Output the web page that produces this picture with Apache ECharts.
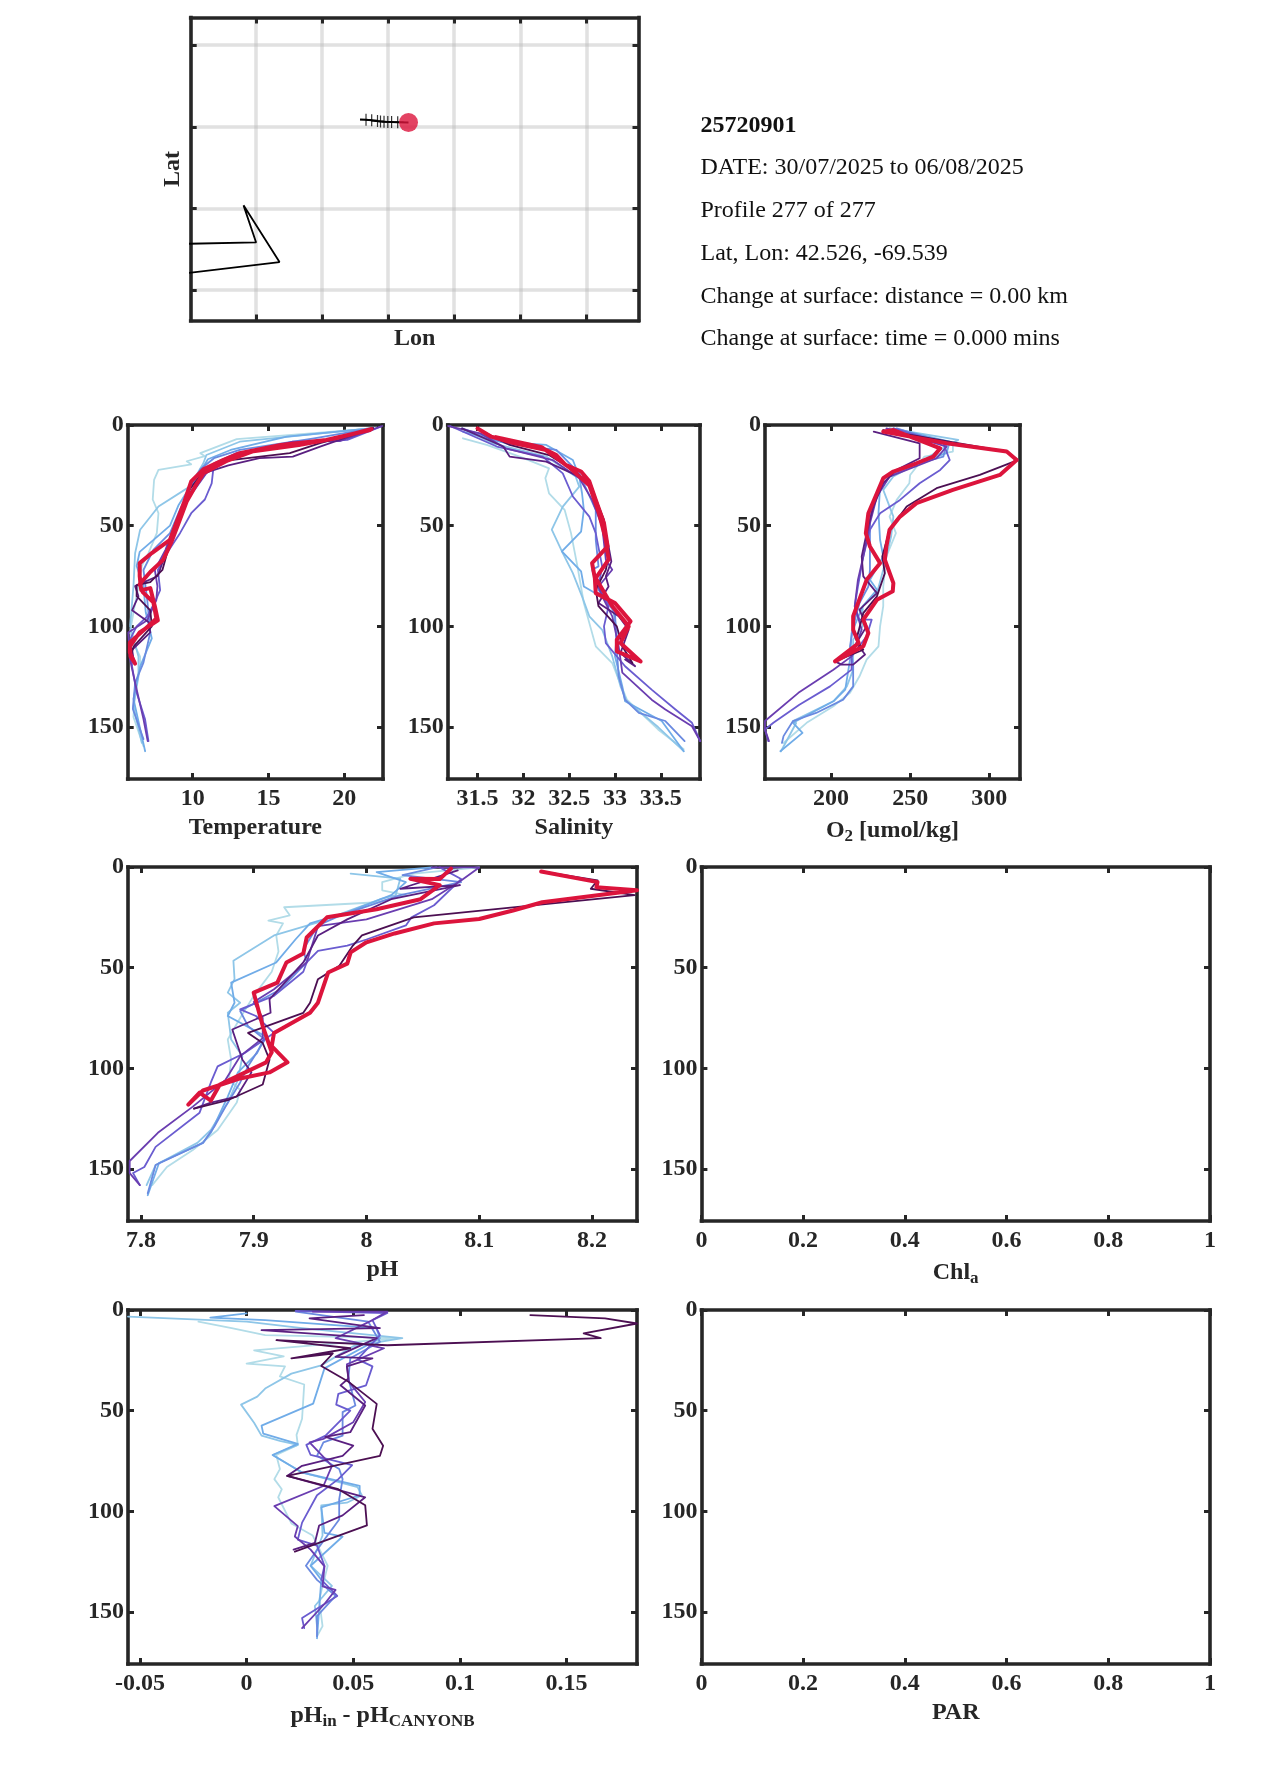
<!DOCTYPE html>
<html><head><meta charset="utf-8">
<style>html,body{margin:0;padding:0;background:#fff}#c{width:1275px;height:1771px}</style>
<script src="https://cdn.jsdelivr.net/npm/echarts@6/dist/echarts.min.js"></script>
</head><body><div id="c"></div>
<script>
// ---------- tick labels ----------
const depthTicks=[0,50,100,150];
const tempTicks=[10,15,20];
const salTicks=[31.5,32,32.5,33,33.5];
const oxyTicks=[200,250,300];
const phTicks=[7.8,7.9,8,8.1,8.2];
const dphTicks=[-0.05,0,0.05,0.1,0.15];
const unitTicks=[0,0.2,0.4,0.6,0.8,1];
const lonTicks=[-73,-71.5,-70,-68.5,-67,-65.5];
const latTicks=[41.5,42,42.5,43];
// ---------- info text ----------
const infoLines=['25720901','DATE: 30/07/2025 to 06/08/2025','Profile 277 of 277','Lat, Lon: 42.526, -69.539','Change at surface: distance = 0.00 km','Change at surface: time = 0.000 mins'];
// ---------- map ----------
const coastLine=[[-74.7,41.783],[-73.0,41.792],[-73.286,42.019],[-72.469,41.672],[-74.7,41.6]];
const trackLine=[[-70.64,42.545],[-70.504,42.543],[-70.375,42.54],[-70.243,42.535],[-70.175,42.533],[-70.095,42.531],[-70.009,42.53],[-69.923,42.529],[-69.784,42.528],[-69.539,42.526]];
const trackMarks=[[-70.504,42.543],[-70.375,42.54],[-70.243,42.535],[-70.175,42.533],[-70.095,42.531],[-70.009,42.53],[-69.923,42.529],[-69.784,42.528]];
const lastFix=[[-69.539,42.526]];
// ---------- temperature profiles: [value, depth] ----------
const temp1=[[22,1.6],[18,4],[12.9,7],[10.5,14],[10.8,15.5],[9.6,18],[9.9,19.5],[7.74,22.3],[7.45,27.3],[7.36,37],[7.74,43.8],[7.63,53.7],[7.08,63.6],[6.64,70],[6.42,80],[6.09,93],[5.87,103],[6.2,110],[6.53,115],[6.53,120],[6.2,130],[6.09,145],[6.75,159.5]];
const temp2=[[21.9,1.6],[13.1,8.3],[10.9,14.9],[10.7,19],[9.8,30.6],[7.74,40.5],[6.53,52],[6.2,63.6],[6.09,80],[5.87,100],[6.42,115],[6.42,124.8],[6.09,139.7],[6.64,157.8]];
const temp3=[[21.9,1.6],[16.2,5.8],[12.5,12.4],[11,17],[10.6,22],[9.8,31],[9.05,40],[8.5,50],[6.5,63],[6.3,70],[6.75,80],[6.9,93],[7.3,106],[6.53,120],[6.09,136],[6.86,162]];
const temp4=[[21.9,1.6],[18,6.6],[13.1,12.4],[11.4,16.5],[10.5,22],[9.8,32],[9.16,42],[8.5,53.7],[7.4,62],[6.75,72],[7,87],[7.2,103],[6.75,118],[6.2,128],[6.05,141],[6.75,156]];
const temp5=[[22.4,0.8],[20.2,7.4],[16.7,9],[12.9,14],[11.4,19],[11.25,29],[10.8,37],[9.9,43.8],[9.16,53.7],[8.3,63.6],[7.7,72],[7.85,82],[7.5,88],[7,95],[6.3,100],[5.9,106],[6,120],[6.3,133],[6.85,146],[7.08,157]];
const temp6=[[22.5,0.5],[19.7,8],[16.6,8.3],[12.5,15.7],[10.9,24],[9.8,35.5],[8.95,47],[8.2,62],[7.5,72],[7.67,80],[7.6,87],[7,97],[5.75,103],[5.85,116],[6.2,128],[6.75,146],[7.03,157]];
const temp7=[[21.9,1.6],[18.4,10.7],[16.6,15.7],[14.4,16.5],[12.35,20],[10.7,24],[9.8,34],[8.95,48.8],[8.06,67],[7.7,75],[6.2,80],[6.42,85],[6,92],[7.1,98],[7.2,103],[6,111.6],[6.1,116.5]];
const temp8=[[21.9,1.6],[18.4,9],[16.4,14],[12.5,17.4],[10.7,23],[9.8,32],[8.85,48.8],[8,72],[7.2,78],[6.3,79.5],[6.3,85],[7.2,92],[7.3,100],[6.1,110],[5.9,115]];
const tempLast=[[21.7,2.5],[18.8,7.4],[15.8,9.9],[13.1,14],[12,17.4],[10.7,22],[9.9,28],[9.4,39],[8.5,57],[7.3,63.6],[6.5,68.6],[6.5,75],[6.6,82],[7.2,81],[7.5,90],[7.7,97],[6.5,103],[5.85,110],[5.9,115],[6.2,118.5],[5.85,113],[5.85,108],[7.2,99],[7.6,96],[7.4,88],[6.7,83],[6.5,79],[7.2,73],[8.05,67],[8.6,58],[9.0,50],[9.6,38],[10.2,30],[10.7,24],[12.2,18],[14,13],[17,10],[19.5,6.5],[21.8,2]];
// ---------- salinity profiles ----------
const sal1=[[31.34,6.6],[31.6,9.9],[31.96,15.7],[32.28,21.5],[32.24,26.4],[32.28,33.9],[32.45,42.1],[32.52,53.7],[32.59,70.2],[32.66,88.4],[32.73,100],[32.79,109.9],[32.97,118.2],[33.04,126.4],[33.13,136.4],[33.47,151.2],[33.75,161]];
const sal2=[[31.33,1.7],[31.67,9.1],[32.25,15.7],[32.57,25.6],[32.61,30.6],[32.43,40.5],[32.31,52],[32.43,63.6],[32.54,73.6],[32.64,85.1],[32.72,95],[32.86,101.7],[32.97,114.9],[33.06,129.8],[33.13,137.2],[33.47,150],[33.75,162]];
const sal3=[[31.34,3.3],[31.74,8.3],[32.25,9.9],[32.54,17.4],[32.61,25.6],[32.64,33.9],[32.66,42.1],[32.63,52.9],[32.42,62.8],[32.63,72.7],[32.66,80.2],[32.97,88.4],[33.02,103.3],[33,114.9],[33.08,129.8],[33.11,137.2],[33.51,147],[33.75,162]];
const sal4=[[31.33,1.7],[31.81,9.1],[32.36,12.4],[32.61,24],[32.79,42.1],[32.79,57],[32.82,70.2],[32.75,71.9],[32.82,81.8],[33,93.4],[33.02,111.6],[33.04,124.8],[33.11,136.4],[33.26,143],[33.55,147],[33.76,157]];
const sal5=[[31.2,0.5],[31.71,10.7],[32.21,15.7],[32.43,24],[32.54,35.5],[32.72,45.5],[32.79,53.7],[32.86,70.2],[32.82,80.2],[32.93,90],[32.88,100],[32.9,108.3],[33.11,119.8],[33.4,131.4],[33.66,141.3],[33.84,147.9],[33.93,157]];
const sal6=[[31.18,0.5],[31.53,4.1],[31.81,11.6],[32.32,17.4],[32.61,26.4],[32.75,37.2],[32.86,50.4],[32.9,66.9],[32.97,71.9],[32.82,80.2],[32.86,85.1],[32.97,95],[33.04,109.9],[33.08,123],[33.4,136.4],[33.55,141.3],[33.84,149.6],[33.93,157]];
const sal7=[[31.33,1.7],[31.78,10.7],[31.85,15.7],[32.25,18.2],[32.57,24.8],[32.72,27.3],[32.86,45.5],[32.93,60.3],[32.96,67.8],[32.9,75.2],[32.93,80.2],[32.82,88.4],[33.04,95],[33.15,101.7],[33.06,113.2],[33.22,119.8],[33.11,116.5]];
const sal8=[[31.49,1.7],[31.85,9.9],[32.28,14.9],[32.54,22.3],[32.72,28.9],[32.88,47.1],[32.93,65.3],[32.9,71.9],[32.79,81.8],[32.82,90],[33.02,100],[33.08,109.9],[33.19,118.2]];
const salLast=[[31.5,1.7],[31.65,5.8],[31.89,9],[32.25,12.4],[32.36,14.9],[32.46,19.8],[32.63,23.1],[32.72,28],[32.79,37.2],[32.88,48.8],[32.92,60.3],[32.75,68.6],[32.78,76],[32.79,83.5],[33,88.4],[33.17,97.5],[33.02,106.6],[33.02,112.4],[33.28,117.4],[33.06,108.3],[33.15,100],[32.97,90],[32.79,76],[32.93,66.9],[32.9,57],[32.82,43],[32.72,30],[32.5,21],[32.2,11],[31.7,6]];
// ---------- oxygen profiles ----------
const oxy1=[[237,1.7],[277,9.1],[277,13.2],[259,15.7],[250,24.8],[249.5,28.9],[241.5,37.2],[237,45.5],[241,53.7],[235,65.3],[233,80.2],[233,90],[231,100],[230,109.9],[222.5,116.5],[218,124.8],[212,133],[201.5,139.7],[184.6,147.9],[170,157.9]];
const oxy2=[[237,1.7],[280.4,7.4],[267,13.2],[260.6,16.5],[239.4,25.6],[233,32.2],[239.4,45.5],[238,55.4],[233,71.9],[229,83.5],[220,90],[220,100],[214,106.6],[214,121.5],[210,129.8],[201.5,137.2],[176,147],[178,148],[168.4,162]];
const oxy3=[[239.4,1.7],[275,8.3],[273,14],[254.5,19],[237,25.6],[231,30.6],[230,43.8],[231,57],[233,65.3],[224.6,76.9],[229,81.8],[220,90],[213,103.3],[212,116.5],[209,131.4],[201.5,137.2],[176,147.9],[182,152.9],[168,162]];
const oxy4=[[241.5,1.7],[273,9.1],[271,15.7],[252,19.8],[237,25.6],[229,33.9],[224.6,45.5],[224.6,58.7],[224.6,71.9],[223.6,80.2],[218,88.4],[214,100],[212,109.9],[214,119.8],[214,129.8],[207.7,136.4],[190.6,143],[176,147],[170,154.5],[169,157.9]];
const oxy5=[[239.4,1.7],[271,9.1],[275,17.4],[269,22.3],[256,28.9],[243.6,37.2],[231,43.8],[224.6,52],[220.4,65.3],[217,80.2],[215,90],[218,96.7],[225.7,96.7],[222.5,104.9],[213,114.9],[213,121.5],[199.4,129.8],[180,138.9],[163.6,147.9],[158.3,151.2],[160.4,157]];
const oxy6=[[235,1.7],[273,10.7],[266.7,16.5],[247.8,22.3],[237,25.6],[229,35.5],[224.6,48.8],[220.4,65.3],[217,76.9],[215,90],[219.4,101.7],[213,114.9],[201.5,121.5],[179.4,133],[158.3,147],[158.3,151.2],[160.8,157]];
const oxy7=[[227,3.3],[256,9.1],[256,16.5],[241.5,22.3],[233,28.9],[226.7,40.5],[222.5,53.7],[219.4,65.3],[220.4,75.2],[229,83.5],[218,91.7],[222.5,100],[216,108.3],[221.5,114],[214,119],[206.7,119],[202.5,117.4]];
const oxy8=[[233,2.5],[311,13.2],[318,17.4],[294,24.8],[266.7,31.4],[247.8,40.5],[237,52],[232.4,65.3],[234,73.6],[229,85.1],[220.4,93.4],[216,106.6],[220.4,111.6],[202.5,117.4]];
const oxyLast=[[233,3.3],[239.4,2.5],[269,11.6],[264.6,15.7],[254,19],[239.4,23.1],[233,26.4],[229,33.9],[223.6,43.8],[222,53.7],[224.6,60.3],[231,68.6],[222.5,76.9],[219.4,83.5],[214,95],[214,101.7],[217.5,108.3],[202.5,117.4],[220.4,109.9],[223.6,103.3],[220.4,96.7],[229,86.8],[239,82.6],[239.4,78.5],[234,66.9],[235,60.3],[237,52],[243.6,45.5],[254,38.8],[277,32.2],[306.7,24.8],[317.3,17.4],[311,13.2],[273,9.1],[233,3.3]];
// ---------- pH profiles ----------
const ph1=[[8.1,0.2],[8.042,3.3],[8.014,7.5],[8.014,11.6],[8.035,14],[8.01,17.5],[7.927,20],[7.932,24],[7.913,26.6],[7.926,28],[7.92,34],[7.922,42],[7.916,52],[7.9,64],[7.888,75],[7.877,85.7],[7.88,95.7],[7.878,105.7],[7.888,110.7],[7.885,117],[7.868,130.6],[7.846,140.6],[7.823,149],[7.81,158]];
const ph2=[[7.986,3.3],[8.03,5.8],[8.026,14],[8.012,16],[7.957,27.5],[7.918,34],[7.882,46.6],[7.883,55.7],[7.877,62.4],[7.888,67.4],[7.877,72.4],[7.88,85.7],[7.89,94],[7.886,105.7],[7.877,117],[7.862,130.6],[7.85,137],[7.813,148],[7.805,158]];
const ph3=[[8.058,0.2],[8.009,2.5],[8.035,7.5],[8.022,14],[7.983,22.5],[7.95,28],[7.937,36],[7.92,47.4],[7.88,57.4],[7.883,67.4],[7.877,74],[7.91,84],[7.903,92.4],[7.886,102],[7.877,114],[7.862,132],[7.855,137],[7.816,147],[7.806,163]];
const ph4=[[8.062,0.2],[8.032,4],[8.084,7.5],[8.03,14],[7.977,24],[7.957,29],[7.944,41],[7.947,47.4],[7.924,60.7],[7.888,71.5],[7.895,79],[7.91,85.7],[7.895,99],[7.888,107],[7.875,119],[7.865,129],[7.855,137],[7.813,148],[7.806,162]];
const ph5=[[8.065,0.2],[8.084,6],[8.06,19],[8.04,25],[8.035,29],[8,36],[7.983,39],[7.957,41.6],[7.947,47.4],[7.944,52],[7.918,64],[7.888,70.7],[7.902,74],[7.918,82.4],[7.892,92.4],[7.868,99],[7.862,107],[7.852,122],[7.813,139],[7.803,149],[7.793,152],[7.799,158]];
const ph6=[[8.058,0.2],[8.1,0.2],[8.084,6.7],[8.058,16],[8,26],[7.957,29.4],[7.947,47.4],[7.918,60.7],[7.9,67],[7.908,75],[7.908,85],[7.888,94],[7.875,105.7],[7.846,119],[7.815,132],[7.79,146],[7.79,152],[7.799,158]];
const ph7=[[8.081,1.7],[8.03,10.8],[8.083,9],[8.022,16],[7.983,26],[7.957,34],[7.944,47.4],[7.914,65.7],[7.915,72.4],[7.881,80.7],[7.89,95.7],[7.898,102],[7.885,114],[7.862,117],[7.847,120]];
const ph8=[[8.155,2.2],[8.205,6.7],[8.199,10.8],[8.238,14],[8.13,20],[8.042,25],[7.996,34],[7.988,39],[7.976,49],[7.957,55.7],[7.95,67.4],[7.944,72.4],[7.895,82.4],[7.908,87.4],[7.914,95.7],[7.908,108],[7.878,115.6],[7.847,120]];
const phLast=[[8.155,2.2],[8.205,7.5],[8.204,10],[8.24,11.6],[8.156,17.5],[8.13,21.6],[8.1,25.8],[8.06,28],[8.025,33],[8,37.4],[7.986,42.4],[7.983,48],[7.966,52.4],[7.957,67.4],[7.95,72.4],[7.918,82.4],[7.916,89],[7.93,97],[7.914,102],[7.888,105],[7.855,111],[7.842,118],[7.852,112],[7.862,116],[7.87,108],[7.911,97],[7.916,92],[7.908,79],[7.9,62.4],[7.921,57.4],[7.929,47.4],[7.944,43],[7.947,35],[7.965,25],[8.009,21],[8.048,16],[8.065,9],[8.039,5.8],[8.065,6],[8.075,0.8]];
// ---------- pH minus CANYON-B profiles ----------
const dph1=[[-0.0226,5.8],[-0.007,9],[0.0087,12.5],[0.0712,14],[0.0035,20],[0.0174,23],[0,26.6],[0.018,28],[0.0156,33],[0.027,37],[0.026,54],[0.0234,62],[0.024,67],[0.0139,72],[0.0156,79],[0.013,84],[0.0165,89],[0.0148,93],[0.021,106],[0.031,112],[0.038,127],[0.034,144],[0.0356,157],[0.033,162]];
const dph2=[[-0.0556,3.3],[0,5.8],[0.026,9],[0.073,14],[0.05,18],[0.035,27.5],[0.021,31.6],[0.0087,39],[0.005,43],[-0.0026,47],[0.0035,56],[0.007,62.4],[0.0156,65],[0.024,67],[0.0122,72],[0.026,80.7],[0.052,88],[0.054,92],[0.047,95.7],[0.035,97],[0.0356,112],[0.03,127],[0.04,137],[0.032,147],[0.033,157]];
const dph3=[[0,1.7],[-0.017,3.8],[0.0087,5],[0.0608,9],[0.0625,14],[0.0365,29],[0.0312,46.5],[0.007,57.4],[0.0078,61.4],[0.024,66.5],[0.0122,72],[0.026,80.7],[0.053,87.3],[0.053,92],[0.035,98],[0.0365,110.7],[0.045,112.5],[0.03,127],[0.035,134],[0.033,163]];
const dph4=[[0.023,0.8],[0.057,5.8],[0.0625,15.8],[0.0486,24],[0.0477,34],[0.051,47.4],[0.045,50.7],[0.045,62.4],[0.036,65.7],[0.033,72.4],[0.0434,79],[0.045,84],[0.0434,94],[0.0434,104],[0.0365,114],[0.0278,127],[0.033,134],[0.0417,142],[0.033,152],[0.033,162]];
const dph5=[[0.023,0.5],[0.066,1.5],[0.059,5],[0.0625,12.5],[0.052,24.5],[0.059,28],[0.056,37.4],[0.043,41.6],[0.042,47],[0.0486,50],[0.037,62.4],[0.028,67],[0.03,72],[0.0495,77],[0.043,84],[0.033,92],[0.026,105.6],[0.024,114],[0.033,117],[0.0365,127],[0.035,134],[0.0425,142],[0.026,153],[0.027,158]];
const dph6=[[0.031,0.8],[0.066,0.8],[0.059,5],[0.0417,14],[0.0644,19],[0.047,27],[0.048,35.8],[0.0556,45.7],[0.05,55.7],[0.036,64],[0.0295,65.7],[0.04,77.4],[0.036,87.4],[0.013,97.4],[0.024,107.3],[0.0226,112.5],[0.03,119],[0.0365,127.3],[0.0356,137.3],[0.0417,139],[0.0365,146],[0.026,158]];
const dph7=[[0.055,2.5],[0.0295,4.2],[0.0625,9],[0.007,10],[0.061,14],[0.0417,23.3],[0.059,24],[0.047,28],[0.0477,34],[0.044,37.4],[0.0556,47.4],[0.0486,60.7],[0.037,63],[0.05,67.4],[0.045,72.4],[0.026,77.4],[0.019,82.4],[0.0556,93],[0.045,102],[0.034,107],[0.032,115.6],[0.022,119]];
const dph8=[[0.133,2.5],[0.168,4.2],[0.183,6.7],[0.158,11.6],[0.166,14],[0.066,17.5],[0.014,15],[0.0486,19],[0.021,24],[0.0404,21.6],[0.035,27.8],[0.048,35.8],[0.061,46.6],[0.059,59],[0.064,67.4],[0.0625,72.4],[0.0295,80],[0.019,82.4],[0.043,89],[0.0556,97],[0.0564,107],[0.0226,120]];
// ---------- profile colours ----------
const profileColors=['#b2dce8','#8ec6e8','#70ace8','#6a8ae0','#6a5cd0','#6a3db0','#5a1f80','#4c0f52','#dc143c'];

const FONT='"Liberation Serif","Times New Roman",serif', INK='#262626';
const grids=[],xAxes=[],yAxes=[],series=[];
function addPanel(p){
  const g=grids.length;
  grids.push({left:p.x,top:p.y,width:p.w,height:p.h,containLabel:false,show:false});
  const line={show:true,onZero:false,lineStyle:{color:INK,width:3.6,cap:'square'}};
  const tickX={show:true,inside:true,length:6,customValues:p.xTicks,lineStyle:{color:INK,width:3}};
  const tickY={show:true,inside:true,length:6,customValues:p.yTicks,lineStyle:{color:INK,width:3}};
  const split=(p.gridlines?{show:true,lineStyle:{color:'#b8b8b8',width:3.5,opacity:0.42}}:{show:false});
  const lab={fontFamily:FONT,fontWeight:'bold',fontSize:24,color:INK};
  xAxes.push({type:'value',gridIndex:g,position:'bottom',min:p.xMin,max:p.xMax,axisLine:line,axisTick:tickX,splitLine:split,
    axisLabel:p.xLabels?{show:true,margin:8,customValues:p.xTicks,hideOverlap:false,...lab}:{show:false},
    name:p.xName,nameLocation:'middle',nameGap:p.xGap||37,nameTextStyle:{...lab,...(p.xRich?{rich:p.xRich}:{})}});
  xAxes.push({type:'value',gridIndex:g,position:'top',min:p.xMin,max:p.xMax,axisLine:line,axisTick:tickX,axisLabel:{show:false},splitLine:{show:false}});
  yAxes.push({type:'value',gridIndex:g,position:'left',inverse:!p.map,min:p.yMin,max:p.yMax,axisLine:line,axisTick:tickY,splitLine:split,
    axisLabel:p.yLabels?{show:true,margin:4,customValues:p.yTicks,hideOverlap:false,...lab}:{show:false},
    name:p.yName||'',nameLocation:'middle',nameGap:p.yGap||8,nameRotate:90,nameTextStyle:lab});
  yAxes.push({type:'value',gridIndex:g,position:'right',inverse:!p.map,min:p.yMin,max:p.yMax,axisLine:line,axisTick:tickY,axisLabel:{show:false},splitLine:{show:false}});
  const xi=xAxes.length-2, yi=yAxes.length-2;
  (p.profiles||[]).forEach((d,i)=>{
    const last=i===p.profiles.length-1&&p.lastBold;
    series.push({type:'line',xAxisIndex:xi,yAxisIndex:yi,data:d,showSymbol:false,symbol:'none',animation:false,silent:true,clip:true,z:3,
      lineStyle:{color:p.colors?p.colors[i]:profileColors[i],width:last?4:1.8,join:'round',cap:'round'}});
  });
  (p.extra||[]).forEach(s=>series.push({xAxisIndex:xi,yAxisIndex:yi,animation:false,silent:true,...s}));
}
const depthAxis={yMin:0,yMax:175.8,yTicks:depthTicks,yLabels:true,h:354};
const nameRich=(base)=>({n:{fontFamily:FONT,fontWeight:'bold',fontSize:24,color:INK,lineHeight:26,verticalAlign:'top'},
  s:{fontFamily:FONT,fontWeight:'bold',fontSize:17,color:INK,lineHeight:18,padding:[16,0,0,0],verticalAlign:'bottom'}});

addPanel({map:true,x:190.7,y:17.5,w:447.8,h:303,xMin:-74.486,xMax:-64.315,yMin:41.314,yMax:43.169,xTicks:lonTicks,yTicks:latTicks,
  gridlines:true,xLabels:false,yLabels:false,xName:'Lon',xGap:6,yName:'Lat',yGap:6,
  extra:[
   {type:'line',data:coastLine,showSymbol:false,symbol:'none',clip:true,z:3,lineStyle:{color:'#000',width:1.8}},
   {type:'line',data:trackLine,showSymbol:false,symbol:'none',clip:true,z:3,lineStyle:{color:'#000',width:2}},
   {type:'scatter',data:trackMarks,symbol:'path://M-1,-10H1V-1H10V1H1V10H-1V1H-10V-1H-1Z',symbolSize:12,itemStyle:{color:'#000'},z:4},
   {type:'scatter',data:lastFix,symbol:'circle',symbolSize:19,itemStyle:{color:'#dc143c'},z:5}
  ]});
addPanel({...depthAxis,x:127.7,y:425,w:255.3,xMin:5.71,xMax:22.55,xTicks:tempTicks,xLabels:true,xName:'Temperature',lastBold:true,
  profiles:[temp1,temp2,temp3,temp4,temp5,temp6,temp7,temp8,tempLast]});
addPanel({...depthAxis,x:447.7,y:425,w:252.5,xMin:31.174,xMax:33.93,xTicks:salTicks,xLabels:true,xName:'Salinity',lastBold:true,
  profiles:[sal1,sal2,sal3,sal4,sal5,sal6,sal7,sal8,salLast]});
addPanel({...depthAxis,x:765,y:425,w:255,xMin:158.3,xMax:319.4,xTicks:oxyTicks,xLabels:true,xName:'{n|O}{s|2}{n| [umol/kg]}',xRich:nameRich(),lastBold:true,
  profiles:[oxy1,oxy2,oxy3,oxy4,oxy5,oxy6,oxy7,oxy8,oxyLast]});
addPanel({...depthAxis,x:128,y:867,w:509,xMin:7.7885,xMax:8.24,xTicks:phTicks,xLabels:true,xName:'pH',lastBold:true,
  profiles:[ph1,ph2,ph3,ph4,ph5,ph6,ph7,ph8,phLast]});
addPanel({...depthAxis,x:701.4,y:867,w:508.6,xMin:0,xMax:1,xTicks:unitTicks,xLabels:true,xName:'{n|Chl}{s|a}',xRich:nameRich()});
addPanel({...depthAxis,x:128,y:1310,w:509,xMin:-0.0556,xMax:0.183,xTicks:dphTicks,xLabels:true,xName:'{n|pH}{s|in}{n| - pH}{s|CANYONB}',xRich:nameRich(),
  colors:['#b2dce8','#8ec6e8','#70ace8','#6a8ae0','#6a5cd0','#6a3db0','#5a1f80','#4c0f52'],
  profiles:[dph1,dph2,dph3,dph4,dph5,dph6,dph7,dph8]});
addPanel({...depthAxis,x:701.4,y:1310,w:508.6,xMin:0,xMax:1,xTicks:unitTicks,xLabels:true,xName:'PAR'});

const infoY=[127.5,170,213,256,299,341];
const graphics=infoLines.map((t,i)=>({type:'text',left:700.5,top:infoY[i]-14,silent:true,
  style:{text:t,fontFamily:FONT,fontSize:24,fontWeight:i===0?'bold':'normal',fill:'#111'}}));

const chart=echarts.init(document.getElementById('c'),null,{renderer:'canvas'});
chart.setOption({backgroundColor:'#fff',animation:false,grid:grids,xAxis:xAxes,yAxis:yAxes,series:series,graphic:graphics});
</script></body></html>
